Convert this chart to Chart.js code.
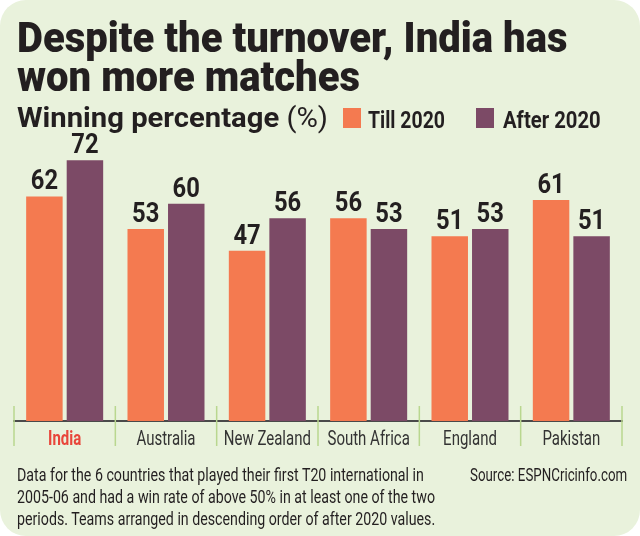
<!DOCTYPE html>
<html>
<head>
<meta charset="utf-8">
<script src="https://cdn.jsdelivr.net/npm/chart.js@4/dist/chart.umd.min.js"></script>
<style>
    body { margin: 0; background: #fff; }
    #card {
        position: absolute; left: 0; top: 0; width: 640px; height: 536px;
        background: #e9f2dc; border-radius: 26px; overflow: hidden;
        font-family: Roboto, sans-serif; color: #231f20;
    }
    .fit { position: absolute; white-space: nowrap; transform-origin: 0 0; }
    #title { left: 17px; top: 18px; font-size: 42px; font-weight: 900; line-height: 39px; }
    #sub { left: 17px; top: 104px; font-size: 28px; font-weight: bold; line-height: 28px; }
    #sub span { font-weight: normal; }
    .key { top: 108px; font-size: 24px; font-weight: bold; line-height: 24px; }
    .sq { position: absolute; top: 108px; width: 18px; height: 20px; }
    .note { top: 464px; font-size: 18.5px; line-height: 22px; }
    #chartBox { position: absolute; left: 0; top: 0; width: 640px; height: 536px; }
</style>
</head>
<body>
<div id="card">
    <div id="chartBox"><canvas id="chart" width="640" height="536"></canvas></div>
    <div id="title" class="fit" data-w="550">Despite the turnover, India has<br>won more matches</div>
    <div id="sub" class="fit" data-w="311">Winning percentage <span>(%)</span></div>
    <div class="sq" style="left:343px;background:#f47a50"></div>
    <div class="key fit" style="left:368px" data-w="77">Till 2020</div>
    <div class="sq" style="left:476px;background:#7c4a66"></div>
    <div class="key fit" style="left:503px" data-w="98">After 2020</div>
    <div class="note fit" style="left:17px" data-w="418">Data for the 6 countries that played their first T20 international in<br>2005-06 and had a win rate of above 50% in at least one of the two<br>periods. Teams arranged in descending order of after 2020 values.</div>
    <div class="note fit" style="left:470px" data-w="157">Source: ESPNCricinfo.com</div>
</div>
<script>
var teams = ["India", "Australia", "New Zealand", "South Africa", "England", "Pakistan"];
var till2020 = [62, 53, 47, 56, 51, 61];
var after2020 = [72, 60, 56, 53, 53, 51];
var labelColors = ["#e8463a", "#333", "#333", "#333", "#333", "#333"];

// squeeze the html texts to the condensed widths of the original
var fits = document.querySelectorAll(".fit");
for (var k = 0; k < fits.length; k++) {
    var el = fits[k];
    var w = parseFloat(el.getAttribute("data-w"));
    el.style.transform = "scaleX(" + (w / el.scrollWidth) + ")";
}

function squeezedText(ctx, text, x, y, sx) {
    ctx.save();
    ctx.translate(x, y);
    ctx.scale(sx, 1);
    ctx.fillText(text, 0, 0);
    ctx.restore();
}

// value labels on top of each bar
var barValues = {
    id: "barValues",
    afterDatasetsDraw: function(chart) {
        var ctx = chart.ctx;
        ctx.save();
        ctx.font = "bold 28px Roboto, sans-serif";
        ctx.fillStyle = "#231f20";
        ctx.textAlign = "center";
        ctx.textBaseline = "alphabetic";
        chart.data.datasets.forEach(function(ds, i) {
            chart.getDatasetMeta(i).data.forEach(function(bar, j) {
                squeezedText(ctx, ds.data[j], bar.x, bar.y - 7, 0.85);
            });
        });
        ctx.restore();
    }
};

// team names and light green separators between the teams
var teamAxis = {
    id: "teamAxis",
    afterDraw: function(chart) {
        var ctx = chart.ctx;
        var x = chart.scales.x;
        var bottom = chart.chartArea.bottom;
        var step = x.width / teams.length;
        ctx.save();
        ctx.strokeStyle = "#b9d78f";
        ctx.lineWidth = 1.5;
        for (var i = 0; i <= teams.length; i++) {
            var px = i < teams.length ? x.getPixelForValue(i) - step / 2 : x.right;
            ctx.beginPath();
            ctx.moveTo(px, bottom - 15);
            ctx.lineTo(px, bottom + 25);
            ctx.stroke();
        }
        ctx.textAlign = "center";
        ctx.textBaseline = "alphabetic";
        teams.forEach(function(t, j) {
            ctx.fillStyle = labelColors[j];
            if (j == 0) ctx.font = "bold 20px Roboto, sans-serif";
            else ctx.font = "20px Roboto, sans-serif";
            squeezedText(ctx, t, x.getPixelForValue(j), bottom + 24, 0.75);
        });
        ctx.restore();
    }
};

new Chart(document.getElementById("chart"), {
    type: "bar",
    data: {
        labels: teams,
        datasets: [
            {label: "Till 2020", data: till2020, backgroundColor: "#f47a50"},
            {label: "After 2020", data: after2020, backgroundColor: "#7c4a66"}
        ]
    },
    options: {
        responsive: false,
        animation: false,
        layout: {padding: {left: 14, right: 18, top: 95, bottom: 107}},
        categoryPercentage: 0.8,
        barPercentage: 0.9,
        plugins: {legend: {display: false}, tooltip: {enabled: false}},
        scales: {
            x: {
                grid: {display: false},
                border: {display: true, color: "#4a4a4a", width: 2},
                ticks: {display: false}
            },
            y: {display: false, min: 0, max: 90}
        }
    },
    plugins: [barValues, teamAxis]
});
</script>
</body>
</html>
